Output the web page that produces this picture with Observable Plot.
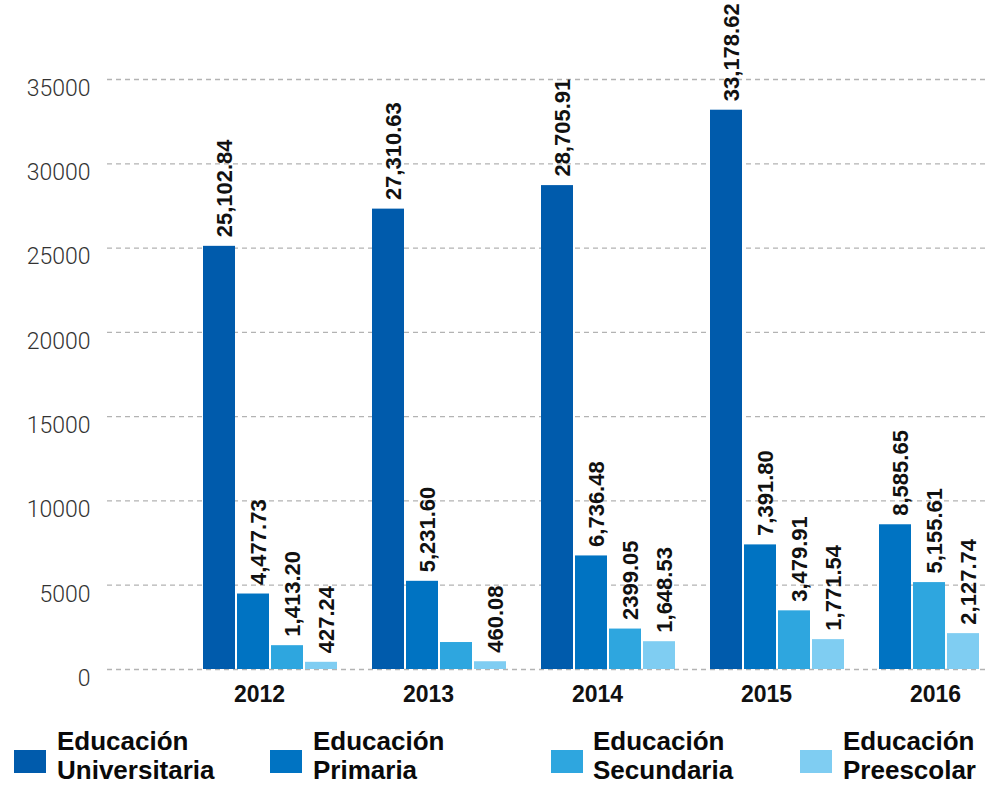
<!DOCTYPE html>
<html>
<head>
<meta charset="utf-8">
<script src="https://cdn.jsdelivr.net/npm/d3@7"></script>
<script src="https://cdn.jsdelivr.net/npm/@observablehq/plot@0.6"></script>
<style>
  html, body { margin: 0; padding: 0; background: #fff; overflow: hidden; }
  #wrap { position: relative; width: 989px; height: 787px; overflow: hidden; }
  #chart { width: 1111px; }
  #chart svg { max-width: none !important; display: block; }
  #legend { position: absolute; left: 0; top: 0; width: 989px; height: 787px; pointer-events: none; }
  .item { position: absolute; top: 727px; font-family: "Liberation Sans", Arial, sans-serif; font-weight: bold; font-size: 26px; line-height: 29px; color: #0a0a0a; }
  .sw { position: absolute; top: 750px; width: 32px; height: 23px; }
</style>
</head>
<body>
<div id="wrap"><div id="chart"></div><div id="legend"></div></div>
<script>
// ---- data ----
const years = ["2012", "2013", "2014", "2015", "2016"];
const seriesNames = ["Educación Universitaria", "Educación Primaria", "Educación Secundaria", "Educación Preescolar"];
const legendLines = [["Educación", "Universitaria"], ["Educación", "Primaria"], ["Educación", "Secundaria"], ["Educación", "Preescolar"]];
const universitaria = [25102.84, 27310.63, 28705.91, 33178.62, null];
const primaria = [4477.73, 5231.60, 6736.48, 7391.80, 8585.65];
const secundaria = [1413.20, 1600, 2399.05, 3479.91, 5155.61];
const preescolar = [427.24, 460.08, 1648.53, 1771.54, 2127.74];
const universitariaLabels = ["25,102.84", "27,310.63", "28,705.91", "33,178.62", null];
const primariaLabels = ["4,477.73", "5,231.60", "6,736.48", "7,391.80", "8,585.65"];
const secundariaLabels = ["1,413.20", null, "2399.05", "3,479.91", "5,155.61"];
const preescolarLabels = ["427.24", "460.08", "1,648.53", "1,771.54", "2,127.74"];
const yTicks = [0, 5000, 10000, 15000, 20000, 25000, 30000, 35000];
const colors = ["#005bac", "#0073c2", "#2ea6df", "#7fcdf2"];

// ---- table ----
const valuesBySeries = [universitaria, primaria, secundaria, preescolar];
const labelsBySeries = [universitariaLabels, primariaLabels, secundariaLabels, preescolarLabels];
const rows = [];
years.forEach((year, i) => {
  let slot = 0;
  seriesNames.forEach((s, j) => {
    const v = valuesBySeries[j][i];
    if (v == null) return;
    rows.push({year, series: s, value: v, label: labelsBySeries[j][i], slot: slot++});
  });
});

const slotStep = 34, barW = 32, bandW = 136;
const slots = [0, 1, 2, 3];

const marks = [
  Plot.ruleY(yTicks, {y: d => d, stroke: "#b3b3b3", strokeWidth: 1.3, strokeDasharray: "5,4"}),
  ...slots.map(k => Plot.barY(rows.filter(d => d.slot === k), {
    x: "year", y: "value", fill: "series",
    insetLeft: k * slotStep, insetRight: bandW - (k * slotStep + barW)
  })),
  ...slots.map(k => Plot.text(rows.filter(d => d.slot === k && d.label), {
    x: "year", y: "value", text: "label",
    rotate: -90, textAnchor: "start", lineAnchor: "middle",
    dy: -9, dx: (k * slotStep + barW / 2) - bandW / 2 + 5,
    fontSize: 22, fontWeight: "bold", fill: "#111",
    fontFamily: "'Liberation Sans Narrow', 'Arial Narrow', sans-serif"
  })),
  Plot.axisY(yTicks, {anchor: "left", tickSize: 0, tickPadding: 17, dy: 9, fontSize: 23, fontWeight: 300,
    fontFamily: "Roboto, 'Liberation Sans', sans-serif", fill: "#333", tickFormat: "d", label: null}),
  Plot.axisX({tickSize: 0, tickPadding: 16, fontSize: 23, fontWeight: "bold", fill: "#111", dx: -12, label: null})
];

const chart = Plot.plot({
  width: 1111,
  height: 715,
  marginLeft: 107,
  marginRight: 0,
  marginTop: 79,
  marginBottom: 46,
  style: {fontFamily: "'Liberation Sans', Arial, sans-serif", background: "#fff", overflow: "visible", maxWidth: "none"},
  x: {type: "band", domain: years, paddingInner: 33 / 169, paddingOuter: 96 / 169, align: 0.5, round: false},
  y: {domain: [0, 35000], label: null},
  color: {domain: seriesNames, range: colors},
  marks
});
document.getElementById("chart").appendChild(chart);

// ---- legend ----
const legend = document.getElementById("legend");
const swatchLeft = [14, 270, 551, 800];
const textLeft = [57, 313, 593, 843];
seriesNames.forEach((s, i) => {
  const sw = document.createElement("div");
  sw.className = "sw";
  sw.style.left = swatchLeft[i] + "px";
  sw.style.background = colors[i];
  legend.appendChild(sw);
  const t = document.createElement("div");
  t.className = "item";
  t.style.left = textLeft[i] + "px";
  t.innerHTML = legendLines[i].join("<br>");
  legend.appendChild(t);
});
</script>
</body>
</html>
